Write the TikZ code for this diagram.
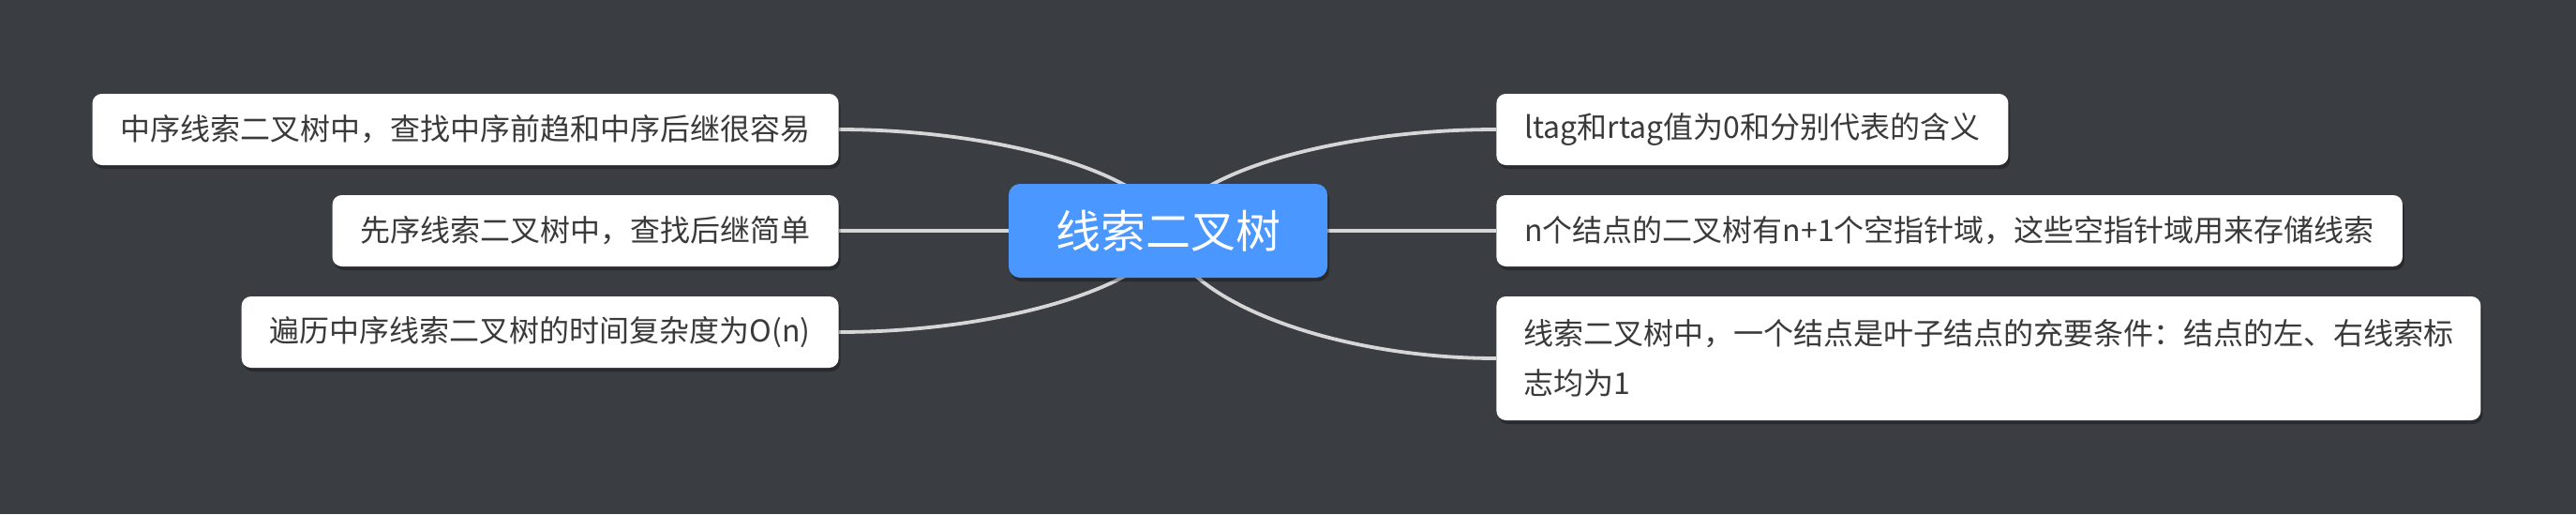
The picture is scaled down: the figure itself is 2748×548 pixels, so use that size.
\documentclass[tikz,border=0pt]{standalone}
\usepackage{fontspec}
\newfontfamily\cjk{Noto Sans CJK SC}
\usetikzlibrary{shadows,calc}
\definecolor{bgc}{HTML}{3A3D42}
\definecolor{mainblue}{HTML}{4A97FF}
\definecolor{txt}{HTML}{3A3A3A}
\definecolor{linec}{HTML}{D6D6D6}
\pgfdeclarelayer{back}
\pgfdeclarelayer{lines}
\pgfsetlayers{back,lines,main}
\begin{document}
\begin{tikzpicture}[x=0.5pt,y=-0.5pt,
  topic/.style={fill=white, rounded corners=5pt, text=txt,
    font=\cjk\fontsize{16}{26.5}\selectfont, inner xsep=15pt, inner ysep=0pt,
    minimum height=38pt,
    drop shadow={shadow xshift=1pt, shadow yshift=-2pt, opacity=0.3, fill=black}},
  central/.style={fill=mainblue, rounded corners=6pt, text=white,
    font=\cjk\fontsize{24}{28}\selectfont, minimum width=170pt, minimum height=50pt,
    drop shadow={shadow xshift=1pt, shadow yshift=-2pt, opacity=0.3, fill=black}},
  conn/.style={draw=linec, line width=1.9pt}]
\begin{pgfonlayer}{back}
\fill[bgc] (0,0) rectangle (2748,548);
\end{pgfonlayer}
\useasboundingbox (0,0) rectangle (2748,548);

\node[central] (C) at (1246,246) {线索二叉树};
\node[topic, anchor=east] (L1) at (895,138) {中序线索二叉树中，查找中序前趋和中序后继很容易};
\node[topic, anchor=east] (L2) at (895,246) {先序线索二叉树中，查找后继简单};
\node[topic, anchor=east] (L3) at (895,354) {遍历中序线索二叉树的时间复杂度为O(n)};
\node[topic, anchor=west] (R1) at (1596,138) {ltag和rtag值为0和分别代表的含义};
\node[topic, anchor=west] (R2) at (1596,246) {n个结点的二叉树有n+1个空指针域，这些空指针域用来存储线索};
\node[topic, anchor=west, minimum height=66pt, text width=496pt, align=left, inner xsep=14.5pt] (R3) at (1596,382) {线索二叉树中，一个结点是叶子结点的充要条件：结点的左、右线索标\\志均为1};

\begin{pgfonlayer}{lines}
\draw[conn] (C.center) .. controls ($(C.center)+(-9,-58)$) and ($(L1.east)+(176,0)$) .. (L1.east);
\draw[conn] (C.center) -- (L2.east);
\draw[conn] (C.center) .. controls ($(C.center)+(-9,57)$) and ($(L3.east)+(176,0)$) .. (L3.east);
\draw[conn] (C.center) .. controls ($(C.center)+(9,-58)$) and ($(R1.west)+(-176,0)$) .. (R1.west);
\draw[conn] (C.center) -- (R2.west);
\draw[conn] (C.center) .. controls ($(C.center)+(9,72)$) and ($(R3.west)+(-176,0)$) .. (R3.west);
\end{pgfonlayer}
\end{tikzpicture}
\end{document}
